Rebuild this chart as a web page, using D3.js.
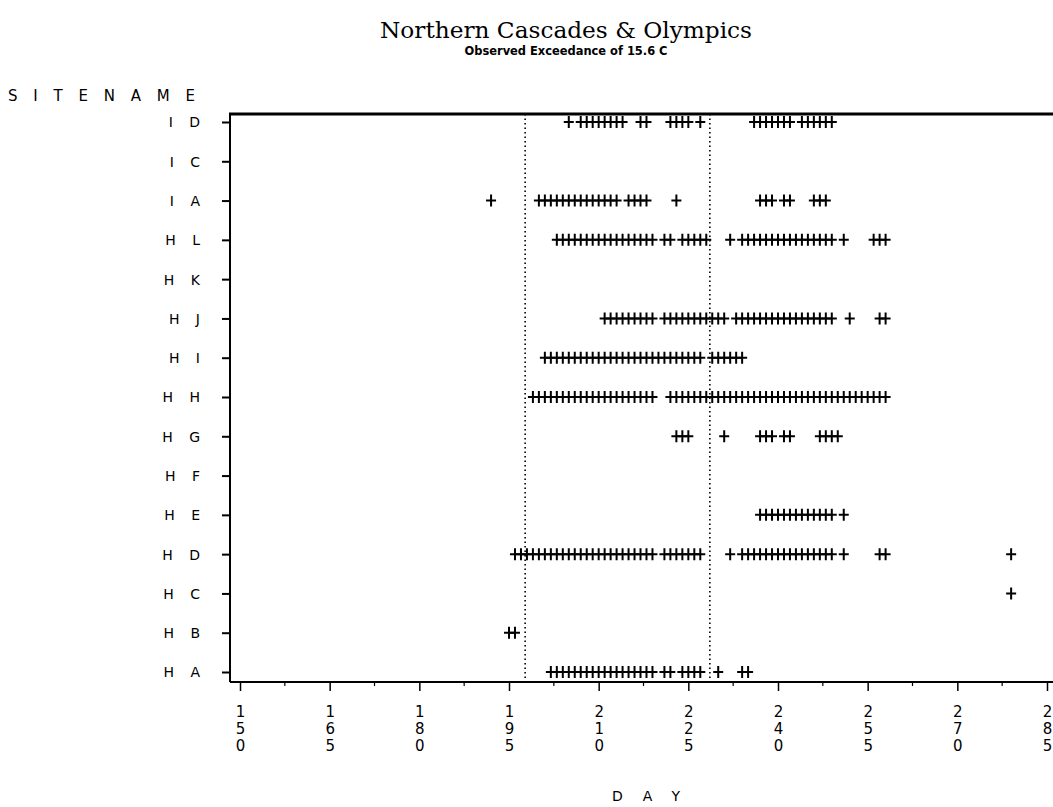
<!DOCTYPE html>
<html>
<head>
<meta charset="utf-8">
<script src="https://cdn.jsdelivr.net/npm/d3@7"></script>
<style>
  body { margin: 0; background: #fff; }
  svg { display: block; }
</style>
</head>
<body>
<div id="chart"></div>
<script>

var sites = ["ID", "IC", "IA", "HL", "HK", "HJ", "HI", "HH", "HG", "HF", "HE", "HD", "HC", "HB", "HA"];

// days (julian) with observed exceedance
var dayID = [205, 207, 208, 209, 210, 211, 212, 213, 214, 217, 218, 222, 223, 224, 225, 227,
  236, 237, 238, 239, 240, 241, 242, 244, 245, 246, 247, 248, 249];
var dayIC = [];
var dayIA = [192, 200, 201, 202, 203, 204, 205, 206, 207, 208, 209, 210, 211, 212, 213, 215, 216, 217, 218,
  223, 237, 238, 239, 241, 242, 246, 247, 248];
var dayHL = [203, 204, 205, 206, 207, 208, 209, 210, 211, 212, 213, 214, 215, 216, 217, 218, 219, 221, 222,
  224, 225, 226, 227, 228, 232, 234, 235, 236, 237, 238, 239, 240, 241, 242, 243, 244, 245, 246, 247, 248, 249,
  251, 256, 257, 258];
var dayHK = [];
var dayHJ = [211, 212, 213, 214, 215, 216, 217, 218, 219, 221, 222, 223, 224, 225, 226, 227, 228, 229, 230, 231,
  233, 234, 235, 236, 237, 238, 239, 240, 241, 242, 243, 244, 245, 246, 247, 248, 249, 252, 257, 258];
var dayHI = [201, 202, 203, 204, 205, 206, 207, 208, 209, 210, 211, 212, 213, 214, 215, 216, 217, 218, 219, 220,
  221, 222, 223, 224, 225, 226, 227, 229, 230, 231, 232, 233, 234];
var dayHH = [199, 200, 201, 202, 203, 204, 205, 206, 207, 208, 209, 210, 211, 212, 213, 214, 215, 216, 217, 218, 219,
  222, 223, 224, 225, 226, 227, 228, 229, 230, 231, 232, 233, 234, 235, 236, 237, 238, 239, 240, 241, 242, 243, 244,
  245, 246, 247, 248, 249, 250, 251, 252, 253, 254, 255, 256, 257, 258];
var dayHG = [223, 224, 225, 231, 237, 238, 239, 241, 242, 247, 248, 249, 250];
var dayHF = [];
var dayHE = [237, 238, 239, 240, 241, 242, 243, 244, 245, 246, 247, 248, 249, 251];
var dayHD = [196, 197, 198, 199, 200, 201, 202, 203, 204, 205, 206, 207, 208, 209, 210, 211, 212, 213, 214, 215, 216,
  217, 218, 219, 221, 222, 223, 224, 225, 226, 227, 232, 234, 235, 236, 237, 238, 239, 240, 241, 242, 243, 244, 245,
  246, 247, 248, 249, 251, 257, 258, 279];
var dayHC = [279];
var dayHB = [195, 196];
var dayHA = [202, 203, 204, 205, 206, 207, 208, 209, 210, 211, 212, 213, 214, 215, 216, 217, 218, 219, 221, 222,
  224, 225, 226, 227, 230, 234, 235];

var dayLists = [dayID, dayIC, dayIA, dayHL, dayHK, dayHJ, dayHI, dayHH, dayHG, dayHF, dayHE, dayHD, dayHC, dayHB, dayHA];

var xTicks = [150, 165, 180, 195, 210, 225, 240, 255, 270, 285];
var xMinor = [157.5, 172.5, 187.5, 202.5, 217.5, 232.5, 247.5, 262.5, 277.5];
var refDays = [197.7, 228.6];

var points = [];
sites.forEach(function (s, i) {
  dayLists[i].forEach(function (d) { points.push({ site: s, day: d }); });
});

var W = 1053, H = 807;
var svg = d3.select("#chart").append("svg").attr("width", W).attr("height", H);

var x = d3.scaleLinear().domain([150, 285]).range([240, 1047]);
var y = d3.scalePoint().domain(sites).range([122, 672]);
var plotTop = 114, plotBottom = 682, plotLeft = 230;

var labelFont = "'DejaVu Sans', sans-serif";

// titles
svg.append("text")
  .attr("x", 566).attr("y", 38)
  .attr("text-anchor", "middle")
  .attr("textLength", 372).attr("lengthAdjust", "spacingAndGlyphs")
  .style("font-family", "'DejaVu Serif', serif")
  .style("font-size", "22px")
  .text("Northern Cascades & Olympics");

svg.append("text")
  .attr("x", 566).attr("y", 55)
  .attr("text-anchor", "middle")
  .attr("textLength", 203).attr("lengthAdjust", "spacingAndGlyphs")
  .style("font-family", "'Liberation Sans Narrow', 'DejaVu Sans Condensed', sans-serif")
  .style("font-weight", "bold")
  .style("font-size", "12px")
  .text("Observed Exceedance of 15.6 C");

svg.append("text")
  .attr("x", 8).attr("y", 101)
  .attr("textLength", 187).attr("lengthAdjust", "spacing")
  .style("font-family", labelFont)
  .style("font-size", "15px")
  .text("SITENAME");

svg.append("text")
  .attr("x", 612).attr("y", 801)
  .attr("textLength", 68).attr("lengthAdjust", "spacing")
  .style("font-family", labelFont)
  .style("font-size", "14px")
  .text("DAY");

// frame line on top
svg.append("line")
  .attr("x1", plotLeft - 1).attr("x2", W).attr("y1", plotTop).attr("y2", plotTop)
  .style("stroke", "#000").style("stroke-width", 3);

// reference lines
svg.append("g").selectAll("line")
  .data(refDays)
  .enter().append("line")
  .attr("x1", d => x(d)).attr("x2", d => x(d))
  .attr("y1", plotTop).attr("y2", plotBottom)
  .style("stroke", "#000")
  .style("stroke-width", 1.6)
  .style("stroke-dasharray", "1.5,3");

// y axis
var yAxis = svg.append("g")
  .attr("transform", "translate(" + plotLeft + ",0)")
  .call(d3.axisLeft(y).tickSize(8).tickPadding(16).tickSizeOuter(0)
    .tickFormat(d => d.split("").join(" ")));
yAxis.select(".domain").attr("d", "M0," + (plotTop - 1) + "V" + plotBottom).style("stroke-width", 2);
yAxis.selectAll(".tick line").style("stroke-width", 2);
yAxis.selectAll(".tick text")
  .attr("fill", "#000")
  .style("font-family", labelFont)
  .style("font-size", "14px")
  .style("letter-spacing", "6px")
  .attr("dy", "0.35em");

// x axis
var xAxis = svg.append("g")
  .attr("transform", "translate(0," + plotBottom + ")")
  .call(d3.axisBottom(x).tickValues(xTicks).tickSize(9).tickSizeOuter(0).tickFormat(d3.format("d")));
xAxis.select(".domain").attr("d", "M" + plotLeft + ",0H" + W).style("stroke-width", 2);
xAxis.selectAll(".tick line").style("stroke-width", 1.5);
xAxis.selectAll(".tick text").each(function (d) {
  var t = d3.select(this).text("").attr("dy", null).attr("fill", "#000")
    .style("font-family", labelFont).style("font-size", "15px");
  String(d).split("").forEach(function (c, k) {
    t.append("tspan").attr("x", 0).attr("y", 35 + k * 17).text(c);
  });
});

svg.append("g").selectAll("line")
  .data(xMinor)
  .enter().append("line")
  .attr("x1", d => x(d)).attr("x2", d => x(d))
  .attr("y1", plotBottom).attr("y2", plotBottom + 4)
  .style("stroke", "#000").style("stroke-width", 1.2);

// plus markers
svg.append("g").selectAll("path")
  .data(points)
  .enter().append("path")
  .attr("transform", d => "translate(" + x(d.day) + "," + y(d.site) + ")")
  .attr("d", "M-5,0H5M0,-6V6")
  .style("stroke", "#000")
  .style("stroke-width", 2)
  .style("fill", "none");

</script>
</body>
</html>
